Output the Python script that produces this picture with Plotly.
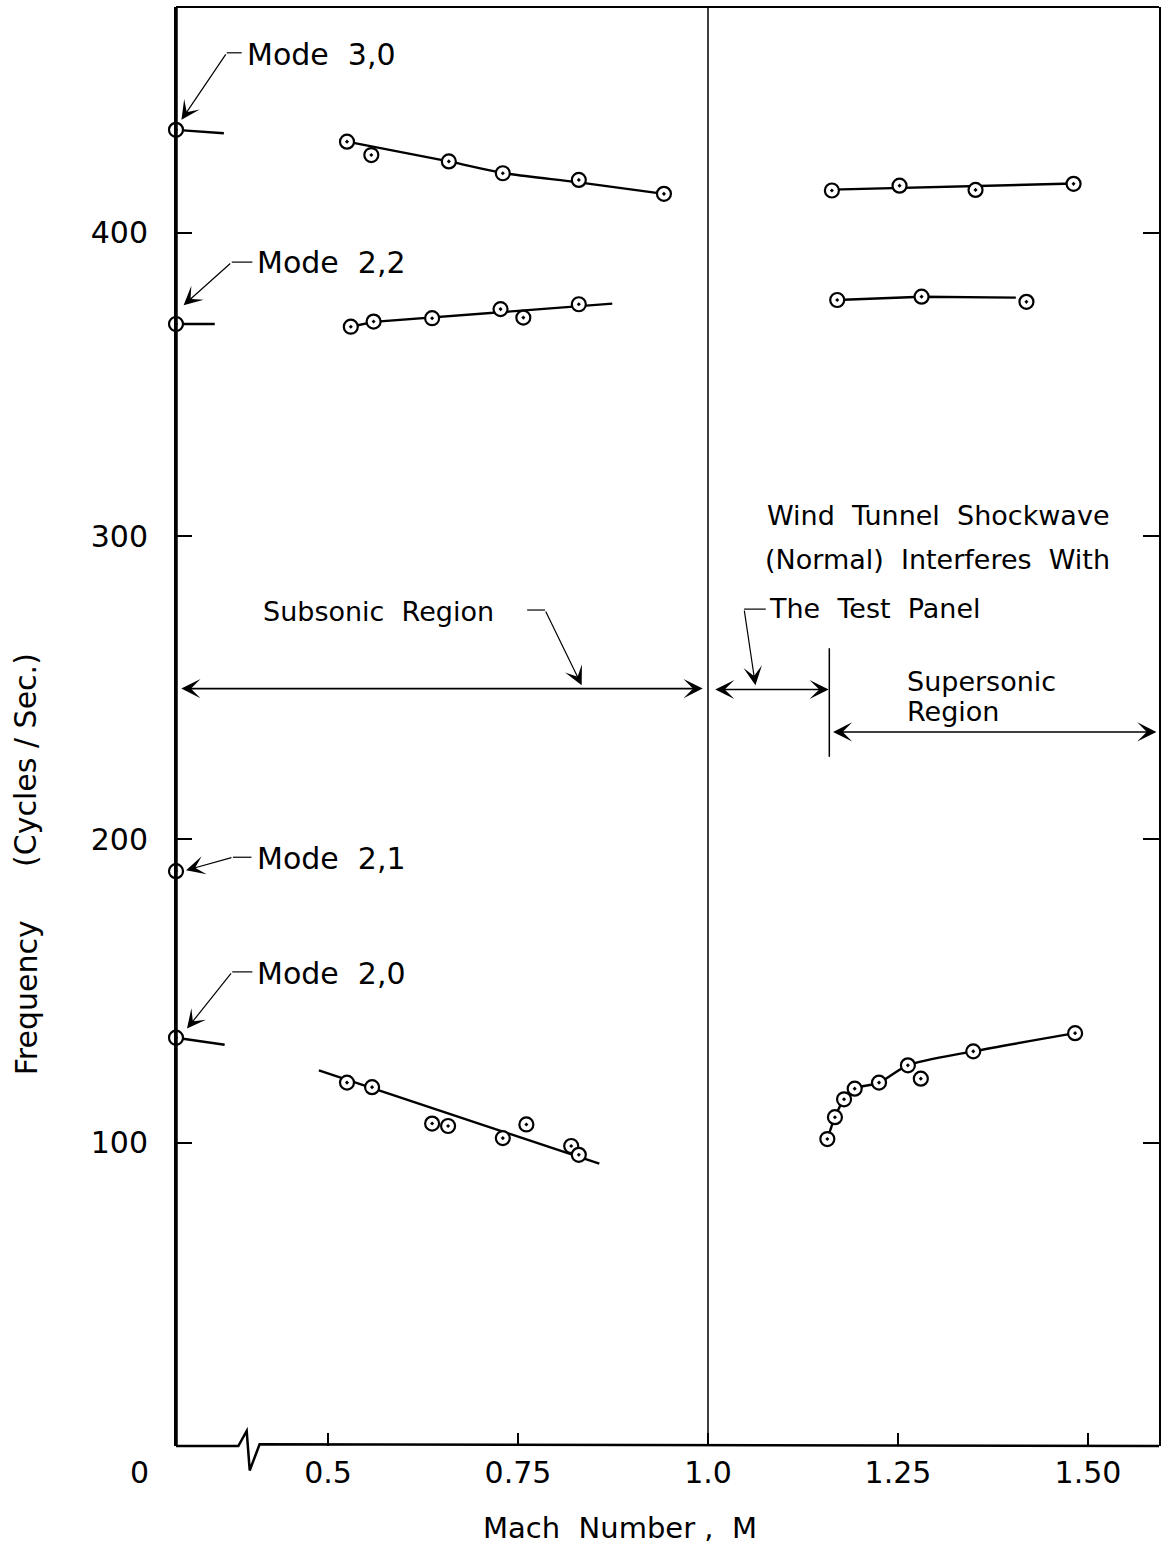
import plotly.graph_objects as go

# ---------------- axis frame ----------------
X_MIN, X_MAX = 0.3, 1.5934      # broken Mach axis: the left edge stands for M = 0
Y_MIN, Y_MAX = 0.0, 474.4

x_tick_vals = [0.5, 0.75, 1.0, 1.25, 1.5]
x_tick_text = ["0.5", "0.75", "1.0", "1.25", "1.50"]
y_tick_vals = [100, 200, 300, 400]
y_tick_text = ["100", "200", "300", "400"]

# ---------------- wind-off (M = 0) frequencies, on the broken left edge ----------------
rest_modes = ["3,0", "2,2", "2,1", "2,0"]
rest_freq = [433.9, 369.9, 189.5, 134.6]

# ---------------- measured points ----------------
m30_sub_mach = [0.525, 0.557, 0.659, 0.730, 0.830, 0.942]
m30_sub_freq = [430.0, 425.6, 423.5, 419.6, 417.4, 412.8]
m30_sup_mach = [1.163, 1.252, 1.352, 1.481]
m30_sup_freq = [413.9, 415.5, 414.1, 416.1]

m22_sub_mach = [0.530, 0.560, 0.637, 0.727, 0.757, 0.830]
m22_sub_freq = [369.0, 370.7, 371.8, 374.8, 372.0, 376.4]
m22_sup_mach = [1.170, 1.281, 1.419]
m22_sup_freq = [377.8, 378.9, 377.2]

m20_sub_mach = [0.525, 0.558, 0.637, 0.658, 0.730, 0.761, 0.820, 0.830]
m20_sub_freq = [119.8, 118.3, 106.3, 105.5, 101.5, 106.0, 98.9, 96.0]
m20_sup_mach = [1.157, 1.167, 1.179, 1.193, 1.225, 1.263, 1.280, 1.349, 1.483]
m20_sup_freq = [101.2, 108.4, 114.3, 117.8, 119.8, 125.5, 121.1, 130.1, 136.1]

# ---------------- faired curves ----------------
c30_sub_mach = [0.525, 0.659, 0.730, 0.830, 0.942]
c30_sub_freq = [430.0, 423.5, 419.7, 416.6, 412.8]
c30_sup_mach = [1.163, 1.481]
c30_sup_freq = [414.2, 416.2]
c22_sub_mach = [0.530, 0.560, 0.874]
c22_sub_freq = [369.0, 370.6, 376.6]
c22_sup_mach = [1.170, 1.281, 1.405]
c22_sup_freq = [377.8, 378.9, 378.6]
c20_sub_mach = [0.488, 0.857]
c20_sub_freq = [123.8, 93.1]
c20_sup_mach = [1.157, 1.167, 1.179, 1.193, 1.225, 1.263, 1.349, 1.483]
c20_sup_freq = [101.2, 108.4, 114.3, 117.8, 119.8, 125.5, 130.1, 136.1]

# short trend stubs leaving the wind-off points
stub_mode_index = [0, 1, 3]
stub_end_mach = [0.363, 0.351, 0.364]
stub_end_freq = [432.8, 369.9, 132.3]

# ---------------- mode labels and leaders ----------------
mode_labels = ["Mode  3,0", "Mode  2,2", "Mode  2,1", "Mode  2,0"]
label_mach = [0.3905, 0.4045, 0.4033, 0.4044]
label_freq = [458.9, 390.3, 193.8, 155.7]
knee_mach = [0.3668, 0.3734, 0.3749, 0.3740]
knee_freq = [459.3, 390.3, 194.1, 156.3]
tip_mach = [0.3072, 0.3100, 0.3133, 0.3145]
tip_freq = [437.2, 376.1, 189.8, 137.6]

# break in the Mach axis (zig-zag), in Mach units / fraction of plot height
break_mach = [0.382, 0.393, 0.397, 0.410]
break_frac = [0.0, 0.0105, -0.0170, 0.0012]

FONT = "DejaVu Sans"
INK = "black"


def to_paper_x(m):
    return (m - X_MIN) / (X_MAX - X_MIN)


fig = go.Figure()

marker_style = dict(symbol="circle-dot", size=14, color="white",
                    line=dict(color=INK, width=2.2))
line_style = dict(color=INK, width=2.4)

# faired curves
for xs, ys, shape in [
    (c30_sub_mach, c30_sub_freq, "spline"),
    (c30_sup_mach, c30_sup_freq, "linear"),
    (c22_sub_mach, c22_sub_freq, "linear"),
    (c22_sup_mach, c22_sup_freq, "linear"),
    (c20_sub_mach, c20_sub_freq, "linear"),
    (c20_sup_mach, c20_sup_freq, "spline"),
]:
    fig.add_trace(go.Scatter(x=xs, y=ys, mode="lines",
                             line=dict(line_style, shape=shape, smoothing=0.8),
                             hoverinfo="skip", showlegend=False))

# stubs from the wind-off points
for k, i in enumerate(stub_mode_index):
    fig.add_trace(go.Scatter(x=[X_MIN, stub_end_mach[k]], y=[rest_freq[i], stub_end_freq[k]],
                             mode="lines", line=line_style, cliponaxis=False,
                             hoverinfo="skip", showlegend=False))

# measured points
for xs, ys in [
    (m30_sub_mach, m30_sub_freq), (m30_sup_mach, m30_sup_freq),
    (m22_sub_mach, m22_sub_freq), (m22_sup_mach, m22_sup_freq),
    (m20_sub_mach, m20_sub_freq), (m20_sup_mach, m20_sup_freq),
]:
    fig.add_trace(go.Scatter(x=xs, y=ys, mode="markers", marker=marker_style,
                             showlegend=False))

# wind-off points sit on the left edge (M = 0)
fig.add_trace(go.Scatter(x=[X_MIN] * len(rest_freq), y=rest_freq, mode="markers",
                         marker=marker_style, cliponaxis=False,
                         text=rest_modes, showlegend=False))

shapes = []
annotations = []

# frame: thick left edge, thin top/right, broken bottom axis
shapes.append(dict(type="line", xref="paper", yref="paper", x0=0, x1=0, y0=0, y1=1,
                   line=dict(color=INK, width=3.5)))
shapes.append(dict(type="line", xref="paper", yref="paper", x0=0, x1=1, y0=1, y1=1,
                   line=dict(color=INK, width=2)))
bx = [to_paper_x(m) for m in break_mach]
path = f"M 0,0 L {bx[0]},{break_frac[0]} L {bx[1]},{break_frac[1]} " \
       f"L {bx[2]},{break_frac[2]} L {bx[3]},{break_frac[3]} L 1,0"
shapes.append(dict(type="path", xref="paper", yref="paper", path=path,
                   line=dict(color=INK, width=2.5)))

# sonic line
shapes.append(dict(type="line", xref="x", yref="paper", x0=1.0, x1=1.0, y0=0, y1=1,
                   line=dict(color=INK, width=1.5)))

LEADER = dict(showarrow=True, arrowhead=3, arrowsize=2.6, arrowwidth=1.2,
              arrowcolor=INK, standoff=0, text="",
              xref="x", yref="y", axref="x", ayref="y")

# mode labels with leaders
for i, txt in enumerate(mode_labels):
    annotations.append(dict(x=label_mach[i], y=label_freq[i], xref="x", yref="y",
                            text=txt, showarrow=False, xanchor="left", yanchor="middle",
                            font=dict(family=FONT, size=30, color=INK)))
    shapes.append(dict(type="line", xref="x", yref="y",
                       x0=label_mach[i] - 0.004, x1=knee_mach[i],
                       y0=knee_freq[i], y1=knee_freq[i],
                       line=dict(color=INK, width=1.2)))
    annotations.append(dict(LEADER, x=tip_mach[i], y=tip_freq[i],
                            ax=knee_mach[i], ay=knee_freq[i]))


def double_arrow(m0, m1, f):
    return dict(x=m1, y=f, ax=m0, ay=f, xref="x", yref="y", axref="x", ayref="y",
                text="", showarrow=True, arrowhead=3, startarrowhead=3,
                arrowside="end+start", arrowsize=2.0, startarrowsize=2.0,
                arrowwidth=1.6, arrowcolor=INK, standoff=0, startstandoff=0)


# region spans
annotations.append(double_arrow(0.305, 0.993, 249.7))
annotations.append(double_arrow(1.0075, 1.1588, 249.4))
annotations.append(double_arrow(1.1625, 1.590, 235.4))
shapes.append(dict(type="line", xref="x", yref="y", x0=1.1596, x1=1.1596, y0=227.2, y1=263.0,
                   line=dict(color=INK, width=1.5)))

region_font = dict(family=FONT, size=27, color=INK)
annotations.append(dict(x=0.567, y=275.2, xref="x", yref="y", text="Subsonic  Region",
                        showarrow=False, font=region_font))
shapes.append(dict(type="line", xref="x", yref="y", x0=0.762, x1=0.7855, y0=275.6, y1=275.6,
                   line=dict(color=INK, width=1.2)))
annotations.append(dict(LEADER, x=0.8338, y=250.8, ax=0.7855, ay=275.6))

annotations.append(dict(x=1.3033, y=306.9, xref="x", yref="y", text="Wind  Tunnel  Shockwave",
                        showarrow=False, font=region_font))
annotations.append(dict(x=1.302, y=292.1, xref="x", yref="y", text="(Normal)  Interferes  With",
                        showarrow=False, font=region_font))
annotations.append(dict(x=1.0776, y=276.1, xref="x", yref="y", text="The  Test  Panel",
                        showarrow=False, xanchor="left", font=region_font))
shapes.append(dict(type="line", xref="x", yref="y", x0=1.076, x1=1.0475, y0=275.9, y1=275.9,
                   line=dict(color=INK, width=1.2)))
annotations.append(dict(LEADER, x=1.0624, y=250.8, ax=1.0475, ay=275.9))
annotations.append(dict(x=1.2597, y=251.9, xref="x", yref="y", text="Supersonic",
                        showarrow=False, xanchor="left", font=region_font))
annotations.append(dict(x=1.2597, y=242.0, xref="x", yref="y", text="Region",
                        showarrow=False, xanchor="left", font=region_font))

# "0" at the broken origin and the axis titles
annotations.append(dict(x=to_paper_x(0.2526), y=-0.0181, xref="paper", yref="paper",
                        text="0", showarrow=False, xanchor="center", yanchor="middle",
                        font=dict(family=FONT, size=30, color=INK)))
annotations.append(dict(x=to_paper_x(0.884), y=-0.0572, xref="paper", yref="paper",
                        text="Mach  Number ,  M", showarrow=False,
                        xanchor="center", yanchor="middle",
                        font=dict(family=FONT, size=29, color=INK)))
annotations.append(dict(x=-0.1526, y=0.3118, xref="paper", yref="paper",
                        text="Frequency", textangle=-90, showarrow=False,
                        xanchor="center", yanchor="middle",
                        font=dict(family=FONT, size=30, color=INK)))
annotations.append(dict(x=-0.1526, y=0.4768, xref="paper", yref="paper",
                        text="(Cycles / Sec.)", textangle=-90, showarrow=False,
                        xanchor="center", yanchor="middle",
                        font=dict(family=FONT, size=30, color=INK)))

fig.update_layout(
    width=1167, height=1554,
    margin=dict(l=176, r=8, t=7, b=108),
    paper_bgcolor="white", plot_bgcolor="white",
    showlegend=False,
    shapes=shapes, annotations=annotations,
    xaxis=dict(range=[X_MIN, X_MAX], showgrid=False, zeroline=False, showline=False,
               ticks="inside", ticklen=13, tickwidth=1.5, tickcolor=INK,
               tickvals=x_tick_vals, ticktext=x_tick_text, ticklabelstandoff=6,
               tickfont=dict(family=FONT, size=30, color=INK)),
    yaxis=dict(range=[Y_MIN, Y_MAX], showgrid=False, zeroline=False,
               showline=True, linecolor=INK, linewidth=2, mirror="ticks",
               ticks="inside", ticklen=16, tickwidth=1.5, tickcolor=INK,
               tickvals=y_tick_vals, ticktext=y_tick_text, ticklabelstandoff=20,
               tickfont=dict(family=FONT, size=30, color=INK)),
)

fig.write_html("out.html")
